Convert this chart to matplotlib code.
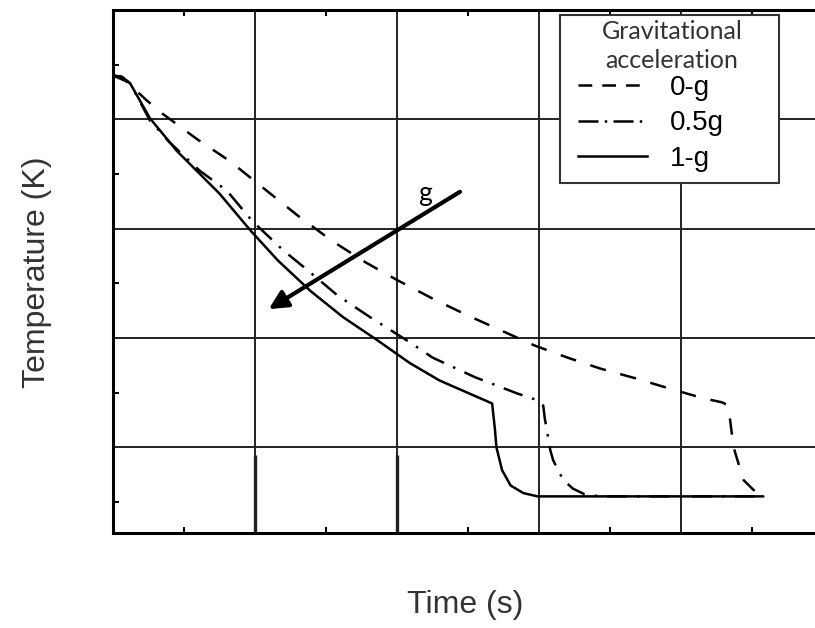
import numpy as np
import matplotlib.pyplot as plt
from matplotlib.lines import Line2D
from matplotlib.patches import Rectangle

# Temperature histories (arbitrary grid units)
time_0g = [0, 0.09, 0.24, 0.35, 0.59, 0.82, 1.06, 1.30, 1.54, 1.78, 2.00, 2.25, 2.49,
           2.73, 2.97, 3.20, 3.43, 3.68, 3.91, 4.15, 4.29, 4.32, 4.34, 4.37, 4.44, 4.51, 4.58]
temp_0g = [4.40, 4.35, 4.17, 4.05, 3.82, 3.62, 3.37, 3.12, 2.89, 2.69, 2.53, 2.36, 2.21,
           2.07, 1.93, 1.82, 1.72, 1.63, 1.54, 1.45, 1.41, 1.39, 1.31, 1.00, 0.70, 0.61, 0.55]

time_05g = [0, 0.06, 0.12, 0.26, 0.39, 0.61, 0.80, 0.98, 1.20, 1.37, 1.58, 1.81, 2.09,
            2.25, 2.55, 2.85, 2.99, 3.03, 3.04, 3.08, 3.10, 3.17, 3.24, 3.32, 3.43, 4.58]
temp_05g = [4.40, 4.39, 4.33, 3.99, 3.80, 3.53, 3.35, 3.07, 2.80, 2.62, 2.39, 2.19, 1.96,
            1.82, 1.64, 1.49, 1.43, 1.38, 1.27, 0.97, 0.88, 0.70, 0.62, 0.57, 0.55, 0.55]

time_1g = [0, 0.06, 0.12, 0.26, 0.45, 0.75, 0.97, 1.16, 1.39, 1.62, 1.86, 2.09, 2.30,
           2.67, 2.69, 2.70, 2.74, 2.80, 2.89, 2.99, 4.58]
temp_1g = [4.40, 4.39, 4.33, 4.01, 3.71, 3.32, 2.98, 2.71, 2.43, 2.19, 1.98, 1.77, 1.61,
           1.40, 1.16, 1.00, 0.79, 0.65, 0.58, 0.55, 0.55]

labels = ['0-g', '0.5g', '1-g']

fig = plt.figure(figsize=(8.15, 6.28), dpi=100)
ax = fig.add_axes([113/815, 95/628, 710/815, 523/628])

lw = 1.8
ax.plot(time_0g, temp_0g, color='black', lw=lw, dashes=(6.5, 6), zorder=3)
ax.plot(time_05g, temp_05g, color='black', lw=lw, dashes=(8, 4, 1, 4), zorder=3)
ax.plot(time_1g, temp_1g, color='black', lw=lw, solid_capstyle='round',
        solid_joinstyle='round', zorder=4)

ax.set_xlim(0, 5)
ax.set_ylim(0.215, 5)
ax.set_xticks([1, 2, 3, 4])
ax.set_yticks([1, 2, 3, 4])
ax.set_xticks(np.arange(0.5, 5, 1), minor=True)
ax.set_yticks(np.arange(0.5, 5, 1), minor=True)
ax.set_xticklabels([])
ax.set_yticklabels([])
ax.tick_params(which='both', direction='in', top=True, right=True, width=1.5)
ax.tick_params(which='major', length=0)
ax.tick_params(which='minor', length=4.5)
ax.grid(which='major', color='#222222', lw=1.4)
ax.set_axisbelow(True)
for s in ax.spines.values():
    s.set_linewidth(2.2)

# darker stubs of the grid near the bottom (scan artefact)
ax.vlines([1, 2], 0.215, 0.93, color='#222222', lw=2.4, zorder=2)

# arrow showing increasing g
ax.annotate('', xy=(1.08, 2.25), xytext=(2.46, 3.35),
            arrowprops=dict(arrowstyle='-|>', lw=3, color='black', mutation_scale=28))
ax.text(2.2, 3.32, 'g', fontsize=19, family='Lato', ha='center', va='center')

# legend
handles = [Line2D([], [], color='black', lw=lw, dashes=(5.5, 4)),
           Line2D([], [], color='black', lw=lw, dashes=(8, 2.5, 1, 2.5)),
           Line2D([], [], color='black', lw=lw)]
leg = ax.legend(handles, labels, loc='upper left', bbox_to_anchor=((578-113)/710, (533-75)/523),
                frameon=False, handlelength=2.5, handletextpad=0.8,
                labelspacing=0.34, borderaxespad=0, borderpad=0,
                prop={'family': 'Liberation Sans', 'size': 20})
ax.add_patch(Rectangle(((560-113)/710, (533-183)/523), 219/710, 168/523,
                       transform=ax.transAxes, fill=True, facecolor='white',
                       edgecolor='#333333', lw=1.5, zorder=5))
leg.set_zorder(6)
ax.text((672-113)/710, (533-46)/523, 'Gravitational\nacceleration', transform=ax.transAxes,
        ha='center', va='center', fontsize=18, family='Lato', color='#333333',
        linespacing=1.3, zorder=7)

fig.text(37/815, 1 - 272/628, 'Temperature (K)', rotation=90, ha='center', va='center',
         fontsize=23, family='Liberation Sans', color='#333333')
fig.text(465/815, 1 - 605/628, 'Time (s)', ha='center', va='center',
         fontsize=23, family='Liberation Sans', color='#333333')

fig.savefig('out.png', dpi=100)
